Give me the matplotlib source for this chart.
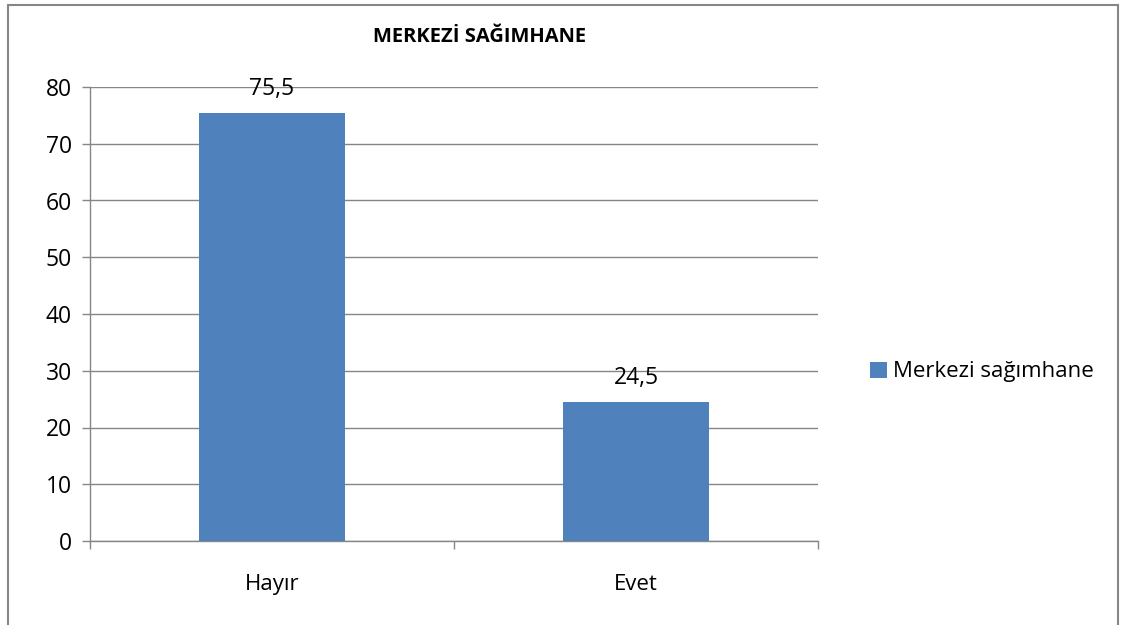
import matplotlib
matplotlib.use("Agg")
import matplotlib.pyplot as plt
from matplotlib.patches import Rectangle, Patch

categories = ["Hayır", "Evet"]
values = [75.5, 24.5]
value_labels = ["75,5", "24,5"]
series_name = "Merkezi sağımhane"
title = "MERKEZİ SAĞIMHANE"
y_ticks = [0, 10, 20, 30, 40, 50, 60, 70, 80]

plt.rcParams["font.family"] = ["Open Sans", "DejaVu Sans"]

bar_color = "#4F81BD"
axis_color = "#868686"

fig = plt.figure(figsize=(11.27, 6.25), dpi=100)
ax = fig.add_axes([90 / 1127, 1 - 541 / 625, 728 / 1127, 454 / 625])

x = list(range(len(categories)))
bars = ax.bar(x, values, width=0.4, color=bar_color, zorder=3)

for b, lab in zip(bars, value_labels):
    ax.annotate(lab, (b.get_x() + b.get_width() / 2, b.get_height()),
                xytext=(0, 17), textcoords="offset points",
                ha="center", va="center", fontsize=16.5)

ax.set_xlim(-0.5, len(categories) - 0.5)
ax.set_ylim(0, 80)
ax.set_yticks(y_ticks)
ax.yaxis.grid(True, color=axis_color, linewidth=1, zorder=0)
ax.tick_params(axis="y", length=6, width=1, color=axis_color, labelsize=16.5, pad=7)

# category labels centred, tick marks at category boundaries
ax.set_xticks(x)
ax.set_xticklabels(categories)
ax.tick_params(axis="x", which="major", length=0, labelsize=16, pad=24)
ax.set_xticks([i - 0.5 for i in range(len(categories) + 1)], minor=True)
ax.tick_params(axis="x", which="minor", length=6, width=1, color=axis_color)

for side in ["top", "right"]:
    ax.spines[side].set_visible(False)
for side in ["left", "bottom"]:
    ax.spines[side].set_color(axis_color)
    ax.spines[side].set_linewidth(1)

fig.text(480 / 1127, 1 - 37 / 625, title, ha="center", va="center",
         fontsize=14.5, fontweight="bold")

handle = Patch(facecolor=bar_color, edgecolor="none")
fig.legend([handle], [series_name], loc="center left",
           bbox_to_anchor=(850 / 1127, 1 - 372 / 625), frameon=False,
           fontsize=16, handlelength=0.75, handleheight=0.75, handletextpad=0.3)

fig.patches.append(Rectangle((8 / 1127, -0.02), 1110 / 1127, 1 - 5 / 625 + 0.02,
                             transform=fig.transFigure, fill=False,
                             edgecolor=axis_color, linewidth=1.5))

fig.savefig("out.png", dpi=100)
